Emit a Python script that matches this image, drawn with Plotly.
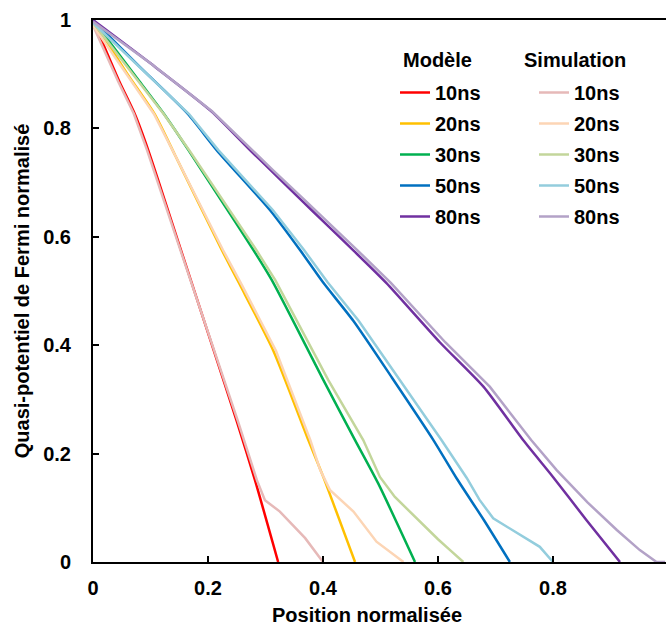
import plotly.graph_objects as go

# ---------------- data ----------------
durations = ["10ns", "20ns", "30ns", "50ns", "80ns"]

m10_x = [0, 0.046, 0.0725, 0.096, 0.15, 0.207, 0.25, 0.2817, 0.322]
m10_y = [1, 0.886, 0.827, 0.76, 0.585, 0.40, 0.26, 0.151, 0]
m20_x = [0, 0.06, 0.107, 0.143, 0.224, 0.2557, 0.3136, 0.3745, 0.4005, 0.4557]
m20_y = [1, 0.9, 0.8266, 0.75, 0.5756, 0.511, 0.39, 0.225, 0.157, 0]
m30_x = [0, 0.08, 0.1235, 0.166, 0.236, 0.279, 0.311, 0.374, 0.4005, 0.4557, 0.496, 0.56]
m30_y = [1, 0.888, 0.8266, 0.76, 0.646, 0.5756, 0.52, 0.391, 0.336, 0.225, 0.145, 0]
m50_x = [0, 0.08, 0.165, 0.215, 0.308, 0.36, 0.40, 0.4527, 0.52, 0.592, 0.632, 0.68, 0.725]
m50_y = [1, 0.915, 0.8266, 0.76, 0.649, 0.5756, 0.516, 0.445, 0.34, 0.225, 0.155, 0.077, 0]
m80_x = [0, 0.1, 0.2058, 0.273, 0.308, 0.36, 0.40, 0.4527, 0.51, 0.6035, 0.679, 0.748, 0.80, 0.858, 0.9165]
m80_y = [1, 0.92, 0.8316, 0.76, 0.724, 0.67, 0.629, 0.575, 0.515, 0.405, 0.3235, 0.225, 0.157, 0.0775, 0]

s10_x = [0, 0.044, 0.071, 0.094, 0.149, 0.208, 0.252, 0.285, 0.299, 0.325, 0.345, 0.369, 0.40]
s10_y = [0.99, 0.886, 0.827, 0.76, 0.585, 0.40, 0.26, 0.151, 0.114, 0.093, 0.07, 0.044, 0]
s20_x = [0, 0.058, 0.106, 0.143, 0.226, 0.259, 0.318, 0.378, 0.395, 0.412, 0.433, 0.453, 0.493, 0.54]
s20_y = [0.99, 0.9, 0.8266, 0.75, 0.5756, 0.511, 0.39, 0.225, 0.17, 0.133, 0.113, 0.093, 0.0375, 0]
s30_x = [0, 0.078, 0.123, 0.167, 0.24, 0.284, 0.317, 0.381, 0.409, 0.470, 0.499, 0.525, 0.551, 0.574, 0.60, 0.621, 0.644]
s30_y = [0.995, 0.888, 0.8266, 0.76, 0.646, 0.5756, 0.52, 0.391, 0.336, 0.225, 0.157, 0.12, 0.093, 0.068, 0.042, 0.022, 0]
s50_x = [0, 0.08, 0.167, 0.218, 0.313, 0.367, 0.408, 0.462, 0.531, 0.606, 0.65, 0.672, 0.696, 0.725, 0.75, 0.777, 0.80]
s50_y = [0.995, 0.915, 0.8266, 0.76, 0.649, 0.5756, 0.516, 0.445, 0.34, 0.225, 0.155, 0.115, 0.0806, 0.062, 0.046, 0.028, 0]
s80_x = [0, 0.1, 0.207, 0.276, 0.312, 0.366, 0.407, 0.46, 0.518, 0.613, 0.69, 0.762, 0.806, 0.86, 0.911, 0.951, 0.98, 0.995]
s80_y = [0.997, 0.92, 0.8316, 0.76, 0.724, 0.67, 0.629, 0.575, 0.515, 0.405, 0.3235, 0.225, 0.17, 0.11, 0.059, 0.022, 0, 0]

model_colors = ["#FF0000", "#FFC000", "#00B050", "#0070C0", "#7030A0"]
sim_colors = ["#E6B9B8", "#FCD5B5", "#C3D69B", "#93CDDD", "#B3A2C7"]

x_ticks = [0, 0.2, 0.4, 0.6, 0.8]
y_ticks = [0, 0.2, 0.4, 0.6, 0.8, 1]

model_x = [m10_x, m20_x, m30_x, m50_x, m80_x]
model_y = [m10_y, m20_y, m30_y, m50_y, m80_y]
sim_x = [s10_x, s20_x, s30_x, s50_x, s80_x]
sim_y = [s10_y, s20_y, s30_y, s50_y, s80_y]

FONT = "Liberation Sans, Arial, sans-serif"

fig = go.Figure()
for i, d in enumerate(durations):
    fig.add_trace(go.Scatter(x=model_x[i], y=model_y[i], mode="lines", name=d,
                             line=dict(color=model_colors[i], width=2.5,
                                       shape="spline", smoothing=0.6),
                             legend="legend", legendgroup="m" + d))
for i, d in enumerate(durations):
    fig.add_trace(go.Scatter(x=sim_x[i], y=sim_y[i], mode="lines", name=d,
                             line=dict(color=sim_colors[i], width=2.5),
                             legend="legend2", legendgroup="s" + d))

W, H = 666, 625
L, R, T, B = 93, 0, 20, 63
plot_w = W - L - R
px_per_unit = 575.0
x_max = plot_w / px_per_unit

def xp(px):
    return (px - L) / plot_w

def yp(py):
    return 1 - (py - T) / (H - T - B)

legend_common = dict(
    bgcolor="rgba(0,0,0,0)", borderwidth=0,
    font=dict(family=FONT, size=20, color="black", weight="bold"),
    tracegroupgap=2, itemwidth=30,
    xanchor="left", yanchor="top", orientation="v",
)

fig.update_layout(
    width=W, height=H,
    margin=dict(l=L, r=R, t=T, b=B, pad=0),
    plot_bgcolor="white", paper_bgcolor="white",
    font=dict(family=FONT, color="black"),
    showlegend=True,
    legend=dict(x=xp(395), y=yp(73), **legend_common),
    legend2=dict(x=xp(534), y=yp(73), **legend_common),
    xaxis=dict(
        range=[0, x_max], tickvals=x_ticks, ticktext=[f"{v:g}" for v in x_ticks],
        ticks="inside", ticklen=6, tickwidth=2, tickcolor="black",
        showline=True, linewidth=2, linecolor="black", mirror=True,
        showgrid=False, zeroline=False,
        tickfont=dict(family=FONT, size=20, color="black", weight="bold"),
        ticklabelstandoff=7,
    ),
    yaxis=dict(
        range=[0, 1], tickvals=y_ticks, ticktext=[f"{v:g}" for v in y_ticks],
        ticks="inside", ticklen=6, tickwidth=2, tickcolor="black",
        showline=True, linewidth=2, linecolor="black", mirror=False,
        showgrid=False, zeroline=False,
        tickfont=dict(family=FONT, size=20, color="black", weight="bold"),
        ticklabelstandoff=16,
        title=dict(text="Quasi-potentiel de Fermi normalisé", standoff=8,
                   font=dict(family=FONT, size=20, color="black", weight="bold")),
    ),
    annotations=[
        dict(text="1", x=1, xref="x", y=yp(587), yref="paper", showarrow=False,
             xanchor="center", yanchor="middle",
             font=dict(family=FONT, size=20, color="black", weight="bold")),
        dict(text="Position normalisée", x=xp(367), xref="paper", y=yp(615), yref="paper",
             showarrow=False, xanchor="center", yanchor="middle",
             font=dict(family=FONT, size=20, color="black", weight="bold")),
        dict(text="Modèle", x=xp(401), xref="paper", y=yp(60), yref="paper",
             showarrow=False, xanchor="left", yanchor="middle",
             font=dict(family=FONT, size=20, color="black", weight="bold")),
        dict(text="Simulation", x=xp(522), xref="paper", y=yp(60), yref="paper",
             showarrow=False, xanchor="left", yanchor="middle",
             font=dict(family=FONT, size=20, color="black", weight="bold")),
    ],
)

fig.write_html("out.html", config={"displayModeBar": False},
               post_script="document.body.style.margin='0';")
